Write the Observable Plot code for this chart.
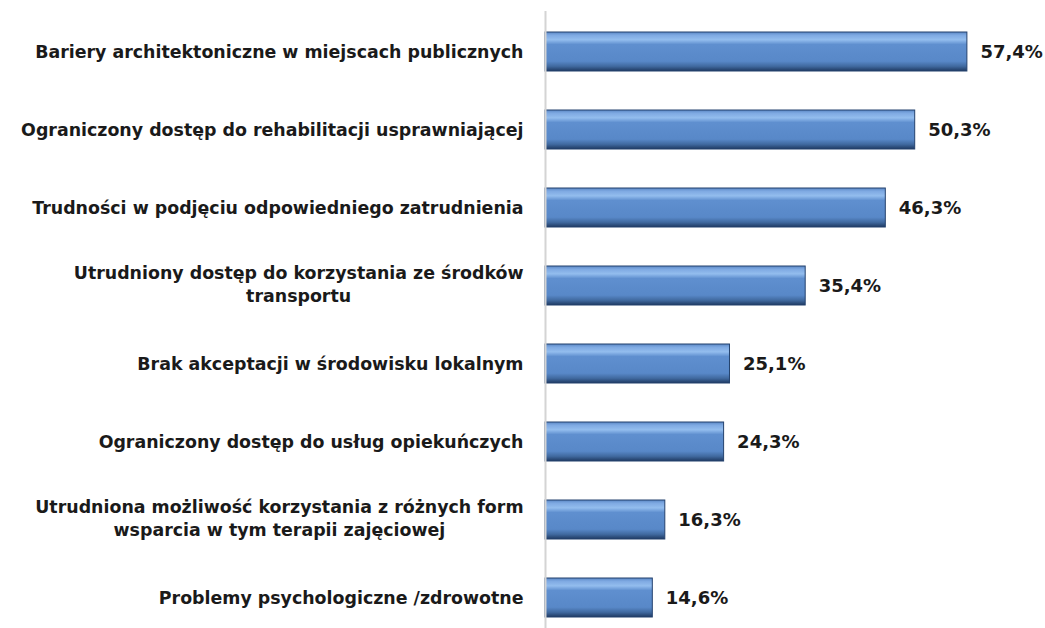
<!DOCTYPE html>
<html>
<head>
<meta charset="utf-8">
<script src="https://cdn.jsdelivr.net/npm/d3@7"></script>
<script src="https://cdn.jsdelivr.net/npm/@observablehq/plot@0.6"></script>
<style>
  body { margin: 0; background: #fff; }
  #chart svg { display: block; overflow: visible; }
</style>
</head>
<body>
<div id="chart"></div>
<script>
const categories = [
  "Bariery architektoniczne w miejscach publicznych",
  "Ograniczony dostęp do rehabilitacji usprawniającej",
  "Trudności w podjęciu odpowiedniego zatrudnienia",
  "Utrudniony dostęp do korzystania ze środków\ntransportu",
  "Brak akceptacji w środowisku lokalnym",
  "Ograniczony dostęp do usług opiekuńczych",
  "Utrudniona możliwość korzystania z różnych form\nwsparcia w tym terapii zajęciowej",
  "Problemy psychologiczne /zdrowotne"
];
const values = [57.4, 50.3, 46.3, 35.4, 25.1, 24.3, 16.3, 14.6];
const valueLabels = ["57,4%", "50,3%", "46,3%", "35,4%", "25,1%", "24,3%", "16,3%", "14,6%"];

const data = categories.map((c, i) => ({label: c, value: values[i], text: valueLabels[i]}));

const FONT = "DejaVu Sans, sans-serif";
const FS = 17.4;
const ctx = document.createElement("canvas").getContext("2d");
ctx.font = `bold ${FS}px "DejaVu Sans"`;

const labelMarks = data.map(d => {
  const lines = d.label.split("\n");
  if (lines.length === 1) {
    return Plot.text([d], {x: () => 0, y: "label", text: "label", textAnchor: "end", dx: -22,
      fontSize: FS, fontWeight: "bold", fill: "#1a1a1a"});
  }
  const w = Math.max(...lines.map(l => ctx.measureText(l).width));
  return Plot.text([d], {x: () => 0, y: "label", text: "label", textAnchor: "middle", dx: -22 - w / 2, dy: -3,
    lineHeight: 1.33, fontSize: FS, fontWeight: "bold", fill: "#1a1a1a"});
});

const chart = Plot.plot({
  width: 1045,
  height: 628,
  marginLeft: 545,
  marginRight: 59,
  marginTop: 21,
  marginBottom: 0,
  style: {fontFamily: FONT, background: "#fff"},
  x: {domain: [0, 60], axis: null},
  y: {domain: categories, paddingInner: 0.5, paddingOuter: 0.11, axis: null},
  marks: [
    Plot.barX(data, {x: "value", y: "label", fill: "url(#barGrad)", stroke: "#24426e", strokeWidth: 1}),
    Plot.tickX(data, {x: "value", y: "label", stroke: "url(#edgeGrad)", strokeWidth: 7, dx: -4, insetTop: 1, insetBottom: 1}),
    Plot.tickX(data, {x: () => 0, y: "label", stroke: "url(#leftGrad)", strokeWidth: 6, dx: 3.5, insetTop: 1, insetBottom: 1}),
    Plot.ruleX([0], {stroke: "#d4d4d4", strokeWidth: 2, insetTop: -10}),
    ...labelMarks,
    Plot.text(data, {x: "value", y: "label", text: "text", textAnchor: "start", dx: 13,
      fontSize: 18, fontWeight: "bold", fill: "#1a1a1a"})
  ]
});

const defs = d3.create("svg:defs");
const g = defs.append("linearGradient").attr("id", "barGrad").attr("x1", 0).attr("y1", 0).attr("x2", 0).attr("y2", 1);
[[0, "#5a86c4"], [0.08, "#7ea9e2"], [0.2, "#93bdee"], [0.32, "#5f8fcf"], [0.75, "#5888c8"], [0.88, "#40699f"], [1, "#1f3a62"]]
  .forEach(([o, c]) => g.append("stop").attr("offset", o).attr("stop-color", c));
const e = defs.append("linearGradient").attr("id", "edgeGrad").attr("x1", 0).attr("y1", 0).attr("x2", 0).attr("y2", 1);
[[0, "#4f7ab4"], [0.5, "#3a5f92"], [1, "#1c3457"]]
  .forEach(([o, c]) => e.append("stop").attr("offset", o).attr("stop-color", c));
const l = defs.append("linearGradient").attr("id", "leftGrad").attr("x1", 0).attr("y1", 0).attr("x2", 0).attr("y2", 1);
[[0, "#6f9bd8"], [0.5, "#5d8dcc"], [1, "#3f689f"]]
  .forEach(([o, c]) => l.append("stop").attr("offset", o).attr("stop-color", c));
chart.insertBefore(defs.node(), chart.firstChild);

document.getElementById("chart").appendChild(chart);
</script>
</body>
</html>
